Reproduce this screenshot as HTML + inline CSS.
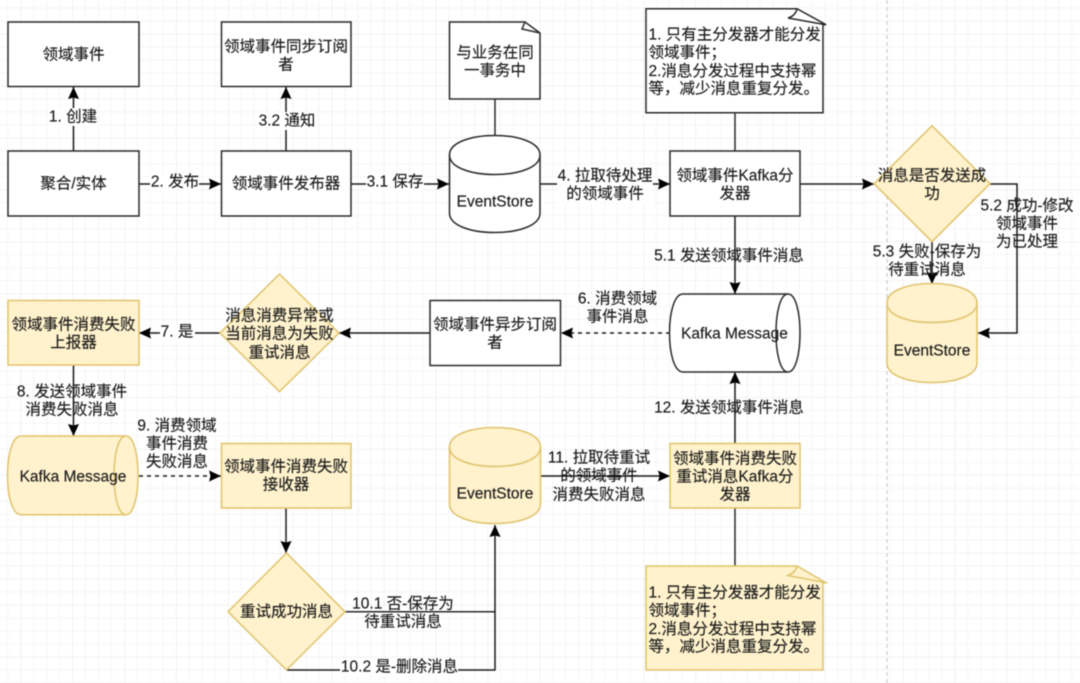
<!DOCTYPE html>
<html><head><meta charset="utf-8"><style>
html,body{margin:0;padding:0;background:#fff;width:1080px;height:683px;overflow:hidden}
svg{display:block;filter:blur(.5px)}
text{font-family:"Liberation Sans","Noto Sans CJK SC",sans-serif;font-size:15.5px;fill:#1a1a1a;text-anchor:middle;stroke:#1a1a1a;stroke-width:.15px;transform:translateY(-.5px)}
.s{fill:#fff;stroke:#2a2a2a;stroke-width:1.5}
.y{fill:#fff2cc;stroke:#e0c36c;stroke-width:1.5}
.l{fill:none;stroke:#2a2a2a;stroke-width:1.5}
.a{fill:none;stroke:#1a1a1a;stroke-width:1.5;marker-end:url(#m)}
.d{stroke-dasharray:4 4}
.n text{text-anchor:start}
</style></head><body>
<svg width="1080" height="683" viewBox="0 0 1080 683" xmlns="http://www.w3.org/2000/svg">
<defs>
<marker id="m" markerUnits="userSpaceOnUse" markerWidth="13" markerHeight="13" refX="12" refY="6" orient="auto"><path d="M0 0.5L12 6L0 11.500L1.5 6Z" fill="#000"/></marker>
<pattern id="g" patternUnits="userSpaceOnUse" x="20.6" y="34" width="51.9" height="51.9">
<path d="M12.97 0V52M25.95 0V52M38.92 0V52M0 12.97H52M0 25.95H52M0 38.92H52" stroke="#f5f5f5" stroke-width="1" fill="none"/>
<path d="M0 0V52M0 0H52" stroke="#e6e6e6" stroke-width="1" fill="none"/>
</pattern>
</defs>
<rect width="1080" height="683" fill="#fff"/>
<rect width="1080" height="683" fill="url(#g)"/>
<path d="M887 0V683" stroke="#c4c4c4" stroke-width="1" stroke-dasharray="4 3" fill="none"/>

<!-- connectors -->
<path class="a" d="M73.5 151V87"/>
<path class="a" d="M286 151V87"/>
<path class="a" d="M139 184H221"/>
<path class="a" d="M351 184H449"/>
<path class="l" d="M495 99V136"/>
<path class="l" d="M735 112V151"/>
<path class="a" d="M540 184H670"/>
<path class="a" d="M800 184H874"/>
<path class="a" d="M735 216V294"/>
<path class="a" d="M932 242V284"/>
<path class="a" d="M990 184H1017V333H978"/>
<path class="a d" d="M670 333H561"/>
<path class="a" d="M430 333H339"/>
<path class="a" d="M220 333H139"/>
<path class="a" d="M73.5 365V436"/>
<path class="a d" d="M139 476H221"/>
<path class="a" d="M286 508V553"/>
<path class="l" d="M345 611.700H495"/>
<path class="a" d="M286.500 670H495V525"/>
<path class="a" d="M541 476H670"/>
<path class="a" d="M735 443V372"/>
<path class="l" d="M735 508V566"/>

<!-- label backgrounds breaking lines -->
<g fill="#fff">
<rect x="48" y="108" width="50" height="18"/>
<rect x="257" y="112" width="60" height="18"/>
<rect x="150" y="175" width="49" height="18"/>
<rect x="366" y="175" width="58" height="18"/>
<rect x="557" y="167" width="96" height="36"/>
<rect x="160" y="324" width="35" height="18"/>
<rect x="340" y="658" width="118" height="18"/>
</g>

<!-- top row -->
<rect class="s" x="8" y="22" width="131" height="64.500"/>
<text x="73.500" y="60">领域事件</text>
<rect class="s" x="221.500" y="22" width="129.500" height="64.500"/>
<text x="286" y="52">领域事件同步订阅</text>
<text x="286" y="70">者</text>
<path class="s" d="M449.500 22H525L540 33V99H449.500Z"/>
<path class="l" d="M525 22L522 29L540 33"/>
<text x="495" y="58">与业务在同</text>
<text x="495" y="76">一事务中</text>
<rect class="s" x="8" y="151" width="131" height="65"/>
<text x="73.500" y="189">聚合/实体</text>
<rect class="s" x="221.500" y="151" width="129.500" height="65"/>
<text x="286" y="189">领域事件发布器</text>
<path class="s" d="M449.500 155C449.500 129 540 129 540 155V213C540 239 449.500 239 449.500 213Z"/>
<path class="l" d="M449.500 155C449.500 181 540 181 540 155"/>
<text x="495" y="207">EventStore</text>

<path class="s" d="M646 8.700H797L826 24.700L823 24.700V112.700H646Z"/>
<path class="l" d="M797 8.700C796 14 792 17 788 18L826 24.700"/>
<g class="n">
<text x="648.500" y="40">1. 只有主分发器才能分发</text>
<text x="648.500" y="58">领域事件；</text>
<text x="648.500" y="76.500">2.消息分发过程中支持幂</text>
<text x="648.500" y="94">等，减少消息重复分发。</text>
</g>
<rect class="s" x="670" y="151" width="130" height="65"/>
<text x="735" y="181">领域事件Kafka分</text>
<text x="735" y="199">发器</text>
<path class="y" d="M932 125.700L990 183.700L932 241.700L874 183.700Z"/>
<text x="932" y="181">消息是否发送成</text>
<text x="932" y="199">功</text>

<!-- middle row -->
<rect class="y" x="8" y="300.500" width="131" height="64.500"/>
<text x="73.500" y="330">领域事件消费失败</text>
<text x="73.500" y="348">上报器</text>
<path class="y" d="M279.500 274L339 333L279.500 391.600L220 333Z"/>
<text x="279.500" y="321">消息消费异常或</text>
<text x="279.500" y="339">当前消息为失败</text>
<text x="279.500" y="358">重试消息</text>
<rect class="s" x="430" y="300.500" width="130.500" height="65"/>
<text x="495" y="330">领域事件异步订阅</text>
<text x="495" y="348">者</text>
<path class="s" d="M683 294H788C804 294 804 372 788 372H683C665 372 665 294 683 294Z"/>
<path class="l" d="M788 294C772 294 772 372 788 372"/>
<text x="734.500" y="339">Kafka Message</text>
<path class="y" d="M887 303C887 277 977 277 977 303V363C977 389 887 389 887 363Z"/>
<path class="l" style="stroke:#e0c36c" d="M887 303C887 329 977 329 977 303"/>
<text x="932" y="356">EventStore</text>

<!-- lower row -->
<path class="y" d="M21 436H126C142 436 142 514.700 126 514.700H21C3 514.700 3 436 21 436Z"/>
<path class="l" style="stroke:#e0c36c" d="M126 436C110 436 110 514.700 126 514.700"/>
<text x="73" y="482">Kafka Message</text>
<rect class="y" x="221.500" y="443.500" width="129.500" height="64.500"/>
<text x="286" y="472">领域事件消费失败</text>
<text x="286" y="490">接收器</text>
<path class="y" d="M286.500 553L345 611.700L286.500 670L228 611.700Z"/>
<text x="286.500" y="617">重试成功消息</text>
<path class="y" d="M449.500 447C449.500 421 540.500 421 540.500 447V504C540.500 530 449.500 530 449.500 504Z"/>
<path class="l" style="stroke:#e0c36c" d="M449.500 447C449.500 473 540.500 473 540.500 447"/>
<text x="495" y="499">EventStore</text>
<rect class="y" x="670" y="443.500" width="130" height="64.500"/>
<text x="735" y="464">领域事件消费失败</text>
<text x="735" y="482">重试消息Kafka分</text>
<text x="735" y="500">发器</text>
<path class="y" d="M646 566H797L826 582.700H823V670H646Z"/>
<path class="l" style="stroke:#e0c36c" d="M797 566C796 571 792 574 788 575.500L826 582.700"/>
<g class="n">
<text x="648.500" y="598">1. 只有主分发器才能分发</text>
<text x="648.500" y="616">领域事件；</text>
<text x="648.500" y="634.500">2.消息分发过程中支持幂</text>
<text x="648.500" y="652">等，减少消息重复分发。</text>
</g>

<!-- edge labels -->
<text x="73" y="122">1. 创建</text>
<text x="287" y="126">3.2 通知</text>
<text x="175" y="187">2. 发布</text>
<text x="395" y="187">3.1 保存</text>
<text x="605" y="181">4. 拉取待处理</text>
<text x="605" y="199">的领域事件</text>
<text x="729" y="261">5.1 发送领域事件消息</text>
<text x="927" y="257">5.3 失败-保存为</text>
<text x="927" y="275">待重试消息</text>
<text x="1027" y="211">5.2 成功-修改</text>
<text x="1027" y="229">领域事件</text>
<text x="1027" y="247">为已处理</text>
<text x="617.500" y="304">6. 消费领域</text>
<text x="617.500" y="322">事件消息</text>
<text x="177" y="337">7. 是</text>
<text x="72" y="397">8. 发送领域事件</text>
<text x="72" y="415">消费失败消息</text>
<text x="177" y="431">9. 消费领域</text>
<text x="177" y="449">事件消费</text>
<text x="177" y="467">失败消息</text>
<text x="403" y="609">10.1 否-保存为</text>
<text x="403" y="627">待重试消息</text>
<text x="399.500" y="672">10.2 是-删除消息</text>
<text x="599" y="463">11. 拉取待重试</text>
<text x="599" y="481">的领域事件</text>
<text x="599" y="500">消费失败消息</text>
<text x="729" y="413">12. 发送领域事件消息</text>
</svg>
</body></html>
